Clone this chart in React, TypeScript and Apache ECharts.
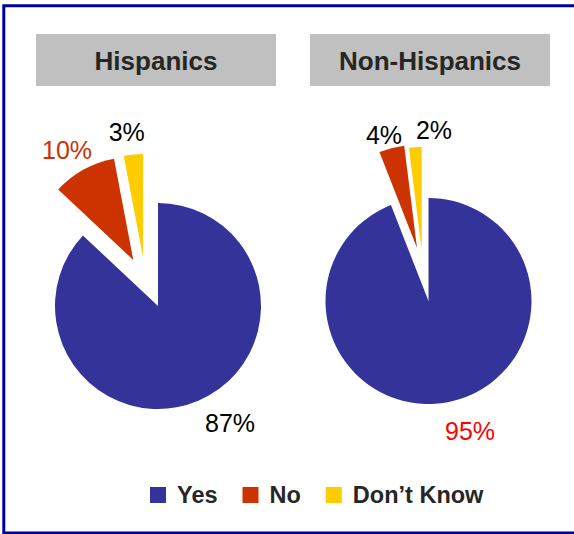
import React, { useEffect, useRef } from "react";
import * as echarts from "echarts";

// ---- data ----
const categories = ["Yes", "No", "Don’t Know"];
const groupTitles = ["Hispanics", "Non-Hispanics"];
const hispanicValues = [87, 10, 3];
const nonHispanicValues = [95, 4, 2];

// ---- style / layout ----
const sliceColors = ["#333399", "#CC3300", "#FFCC00"];
const FONT = "'Liberation Sans', Arial, Helvetica, sans-serif";
const TEXT_DARK = "#262626";

const layouts = [
  {
    values: hispanicValues,
    center: [158, 306],
    radius: 103,
    offsets: [[0, 0], [-24.7, -46], [-15, -49]],
    labelPos: [[230, 423], [67, 149.5], [126.7, 131.7]],
    labelColors: ["#000000", "#CC3300", "#000000"],
    box: { x: 36, y: 34, w: 240, h: 52 },
  },
  {
    values: nonHispanicValues,
    center: [428.5, 301],
    radius: 103,
    offsets: [[0, 0], [-11.5, -53], [-6.8, -51]],
    labelPos: [[470, 431], [384, 135.3], [434, 130]],
    labelColors: ["#FF0000", "#000000", "#000000"],
    box: { x: 310, y: 34, w: 240, h: 52 },
  },
];

export default function App() {
  const ref = useRef<HTMLDivElement>(null);

  useEffect(() => {
    if (!ref.current) return;
    const chart = echarts.init(ref.current, undefined, { renderer: "svg" });

    const series: any[] = [];
    layouts.forEach((g, gi) => {
      categories.forEach((cat, si) => {
        series.push({
          type: "pie",
          name: `${groupTitles[gi]} ${cat}`,
          center: [g.center[0] + g.offsets[si][0], g.center[1] + g.offsets[si][1]],
          radius: g.radius,
          startAngle: 90,
          clockwise: true,
          silent: true,
          avoidLabelOverlap: false,
          emphasis: { disabled: true },
          labelLine: { show: false },
          labelLayout: () => ({
            x: g.labelPos[si][0],
            y: g.labelPos[si][1],
            align: "center",
            verticalAlign: "middle",
          }),
          data: categories.map((c, k) => ({
            name: c,
            value: g.values[k],
            itemStyle: { color: sliceColors[k], opacity: k === si ? 1 : 0, borderWidth: 0 },
            label: {
              show: k === si,
              position: "outside",
              formatter: "{c}%",
              color: g.labelColors[k],
              fontSize: 25,
              fontFamily: FONT,
              fontWeight: "normal",
            },
          })),
        });
      });
    });

    const graphics: any[] = [
      {
        type: "rect",
        shape: { x: 3.8, y: 5.7, width: 700, height: 527.3 },
        style: { fill: "none", stroke: "#000099", lineWidth: 3 },
        silent: true,
      },
    ];
    layouts.forEach((g, gi) => {
      graphics.push({
        type: "rect",
        shape: { x: g.box.x, y: g.box.y, width: g.box.w, height: g.box.h },
        style: { fill: "#C0C0C0" },
        silent: true,
      });
      graphics.push({
        type: "text",
        x: g.box.x + g.box.w / 2,
        y: g.box.y + g.box.h / 2 + 1,
        style: {
          text: groupTitles[gi],
          fill: TEXT_DARK,
          fontSize: 26,
          fontWeight: "bold",
          fontFamily: FONT,
          align: "center",
          verticalAlign: "middle",
          textAlign: "center",
          textVerticalAlign: "middle",
        },
        silent: true,
      });
    });

    chart.setOption({
      animation: false,
      backgroundColor: "#ffffff",
      legend: {
        left: 150,
        top: 483,
        padding: 0,
        itemGap: 25,
        itemWidth: 16,
        itemHeight: 16,
        icon: "rect",
        selectedMode: false,
        data: categories.map((c, i) => ({
          name: c,
          icon: "rect",
          itemStyle: { color: sliceColors[i], opacity: 1, borderWidth: 0 },
        })),
        textStyle: {
          fontSize: 23.5,
          fontWeight: "bold",
          fontFamily: FONT,
          color: TEXT_DARK,
          padding: [0, 0, 0, 6],
        },
      },
      graphic: graphics,
      series,
    });

    return () => chart.dispose();
  }, []);

  return (
    <div
      ref={ref}
      style={{ position: "absolute", left: 0, top: 0, width: 574, height: 534 }}
    />
  );
}
